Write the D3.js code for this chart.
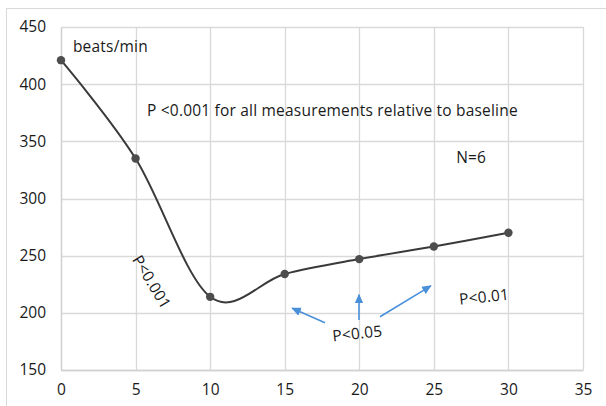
<!DOCTYPE html>
<html>
<head>
<meta charset="utf-8">
<script src="https://cdn.jsdelivr.net/npm/d3@7"></script>
<style>
  html, body { margin: 0; padding: 0; background: #fff; }
  svg { display: block; }
  text { font-family: "Open Sans", "Noto Sans", sans-serif; fill: #1a1a1a; }
</style>
</head>
<body>
<svg id="chart" width="606" height="406"></svg>
<script>
// ---- data ----
const times = [0, 5, 10, 15, 20, 25, 30];
const heartRate = [421, 335, 214, 234, 247, 258, 270];
const xTickValues = [0, 5, 10, 15, 20, 25, 30, 35];
const yTickValues = [150, 200, 250, 300, 350, 400, 450];
const unitLabel = "beats/min";
const noteMain = "P <0.001 for all measurements relative to baseline";
const noteN = "N=6";
const noteP001 = "P<0.001";
const noteP05 = "P<0.05";
const noteP01 = "P<0.01";
// arrows (data coords): from label P<0.05 toward points
const arrowTails = [[17.7, 191.4], [19.98, 193.7], [21.39, 196.6]];
const arrowTips  = [[15.5, 204.0], [19.98, 215.8], [24.8, 223.6]];

// ---- layout ----
const svg = d3.select("#chart");
const plot = { left: 61, right: 583, top: 27, bottom: 370 };
const FS = "15.5px";

const x = d3.scaleLinear().domain([0, 35]).range([plot.left, plot.right]);
const y = d3.scaleLinear().domain([150, 450]).range([plot.bottom, plot.top]);

// outer chart frame
svg.append("rect")
  .attr("x", 6.5).attr("y", 8.5).attr("width", 640).attr("height", 440)
  .attr("fill", "#fff").attr("stroke", "#d9d9d9").attr("stroke-width", 1);

// gridlines
const grid = svg.append("g");
grid.selectAll("line.v").data(xTickValues).join("line")
  .attr("x1", d => Math.round(x(d)) + 0.5).attr("x2", d => Math.round(x(d)) + 0.5)
  .attr("y1", plot.top).attr("y2", plot.bottom)
  .attr("stroke", "#d9d9d9").attr("stroke-width", 1.3);
grid.selectAll("line.h").data(yTickValues).join("line")
  .attr("y1", d => Math.round(y(d)) + 0.5).attr("y2", d => Math.round(y(d)) + 0.5)
  .attr("x1", plot.left).attr("x2", plot.right)
  .attr("stroke", "#d9d9d9").attr("stroke-width", 1.3);

// axes (labels only, Excel style)
const xAxis = d3.axisBottom(x).tickValues(xTickValues).tickSize(0).tickPadding(14);
const gx = svg.append("g").attr("transform", `translate(0,${plot.bottom})`).call(xAxis);
gx.select(".domain").attr("stroke", "#d0d0d0").attr("stroke-width", 1.3);
gx.selectAll("text").style("font-size", FS).style("font-family", null).attr("fill", "#1a1a1a");

const yAxis = d3.axisLeft(y).tickValues(yTickValues).tickSize(0).tickPadding(15);
const gy = svg.append("g").attr("transform", `translate(${plot.left},0)`).call(yAxis);
gy.select(".domain").attr("stroke", "#d0d0d0").attr("stroke-width", 1.3);
gy.selectAll("text").style("font-size", FS).attr("fill", "#1a1a1a");
svg.selectAll(".tick text").attr("font-family", null);

// smoothed line
const pts = times.map((t, i) => [t, heartRate[i]]);
const line = d3.line().x(d => x(d[0])).y(d => y(d[1])).curve(d3.curveCardinal.tension(0));
svg.append("path").datum(pts)
  .attr("d", line).attr("fill", "none")
  .attr("stroke", "#3a3a3a").attr("stroke-width", 2);
svg.selectAll("circle.pt").data(pts).join("circle")
  .attr("cx", d => x(d[0])).attr("cy", d => y(d[1])).attr("r", 4.2)
  .attr("fill", "#4d4d4d");

// annotations
const ann = svg.append("g").style("font-size", FS).style("letter-spacing", "0.2px");
ann.append("text").attr("x", x(0.8)).attr("y", y(428)).text(unitLabel);
ann.append("text").attr("x", x(5.77)).attr("y", y(372)).text(noteMain);
ann.append("text").attr("x", x(27.5)).attr("y", y(331)).attr("text-anchor", "middle").text(noteN);
ann.append("text")
  .attr("transform", `translate(${x(6.07)},${y(227)}) rotate(59)`)
  .attr("text-anchor", "middle").attr("dy", "0.35em").text(noteP001);
ann.append("text")
  .attr("transform", `translate(${x(19.87)},${y(182)}) rotate(-6)`)
  .attr("text-anchor", "middle").attr("dy", "0.35em").text(noteP05);
ann.append("text")
  .attr("transform", `translate(${x(28.36)},${y(214)}) rotate(-6)`)
  .attr("text-anchor", "middle").attr("dy", "0.35em").text(noteP01);

// arrows
const defs = svg.append("defs");
defs.append("marker").attr("id", "ah")
  .attr("viewBox", "0 0 10 10").attr("refX", 9).attr("refY", 5)
  .attr("markerWidth", 6).attr("markerHeight", 6).attr("markerUnits", "strokeWidth")
  .attr("orient", "auto")
  .append("path").attr("d", "M0,0.5 L10,5 L0,9.5 Z").attr("fill", "#4a90d9");
svg.selectAll("line.arrow").data(arrowTails).join("line")
  .attr("x1", d => x(d[0])).attr("y1", d => y(d[1]))
  .attr("x2", (d, i) => x(arrowTips[i][0])).attr("y2", (d, i) => y(arrowTips[i][1]))
  .attr("stroke", "#4a90d9").attr("stroke-width", 1.6)
  .attr("marker-end", "url(#ah)");
</script>
</body>
</html>
